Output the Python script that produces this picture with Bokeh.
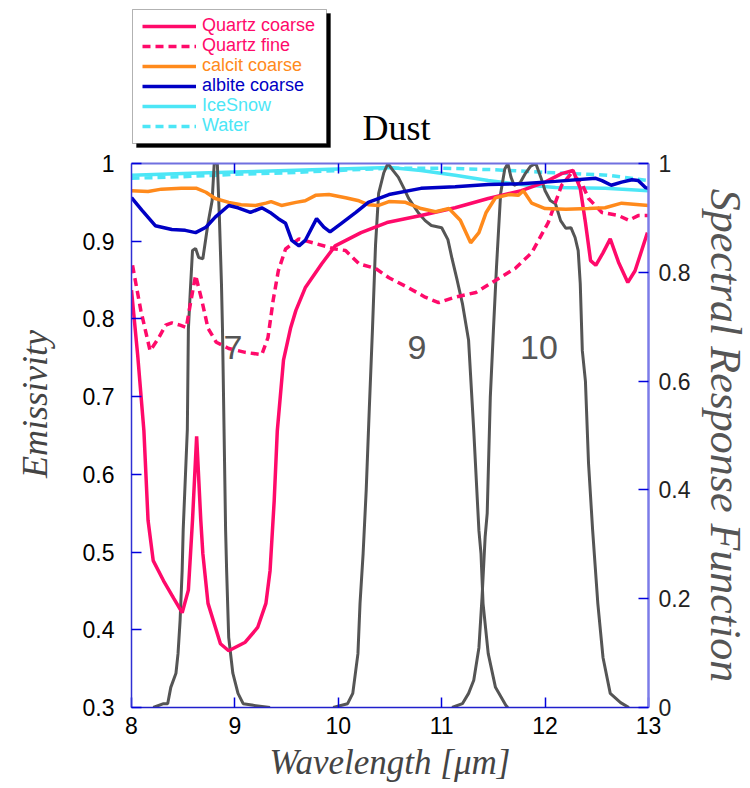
from bokeh.plotting import figure
from bokeh.layouts import column
from bokeh.models import (LinearAxis, Range1d, FixedTicker, Legend, LegendItem,
                          BoxAnnotation, Label, CustomLabelingPolicy)
from bokeh.core.properties import value
from bokeh.embed import file_html
from bokeh.resources import INLINE

# ---------------- data ----------------
quartz_coarse_wl = [8.00, 8.06, 8.12, 8.16, 8.21, 8.31, 8.41, 8.49, 8.55, 8.59, 8.63, 8.67, 8.69, 8.74,
                    8.86, 8.94, 9.10, 9.22, 9.30, 9.34, 9.38, 9.41, 9.47, 9.54, 9.59, 9.68, 9.84, 9.97,
                    10.22, 10.47, 10.80, 11.13, 11.45, 11.77, 12.00, 12.16, 12.27, 12.34, 12.39, 12.44,
                    12.49, 12.56, 12.63, 12.71, 12.80, 12.87, 12.99]
quartz_coarse = [0.837, 0.753, 0.656, 0.541, 0.489, 0.463, 0.440, 0.422, 0.451, 0.541, 0.649, 0.541,
                 0.498, 0.434, 0.382, 0.373, 0.384, 0.403, 0.434, 0.476, 0.566, 0.656, 0.747, 0.789,
                 0.811, 0.840, 0.871, 0.894, 0.911, 0.924, 0.933, 0.943, 0.955, 0.965, 0.976, 0.987,
                 0.991, 0.968, 0.924, 0.875, 0.869, 0.885, 0.903, 0.873, 0.847, 0.862, 0.911]

quartz_fine_wl = [8.01, 8.09, 8.18, 8.26, 8.33, 8.39, 8.47, 8.53, 8.57, 8.62, 8.68, 8.74, 8.82, 8.94,
                  9.10, 9.26, 9.32, 9.37, 9.42, 9.49, 9.62, 9.78, 9.97, 10.07, 10.20, 10.36, 10.49,
                  10.68, 10.84, 10.97, 11.13, 11.33, 11.55, 11.71, 11.87, 12.03, 12.16, 12.25, 12.35,
                  12.42, 12.55, 12.71, 12.81, 12.90, 13.00]
quartz_fine = [0.869, 0.811, 0.759, 0.775, 0.792, 0.795, 0.792, 0.789, 0.820, 0.856, 0.824, 0.788,
               0.770, 0.762, 0.757, 0.754, 0.776, 0.824, 0.862, 0.890, 0.903, 0.897, 0.890, 0.888,
               0.871, 0.865, 0.853, 0.840, 0.828, 0.821, 0.828, 0.834, 0.852, 0.865, 0.885, 0.924,
               0.972, 0.987, 0.976, 0.955, 0.937, 0.933, 0.927, 0.933, 0.933]

calcit_wl = [8.00, 8.16, 8.29, 8.48, 8.63, 8.72, 8.81, 8.94, 9.06, 9.20, 9.30, 9.35, 9.45, 9.59, 9.68,
             9.78, 9.91, 10.07, 10.20, 10.29, 10.39, 10.49, 10.65, 10.80, 10.94, 11.07, 11.18, 11.28,
             11.36, 11.43, 11.52, 11.65, 11.74, 11.79, 11.87, 12.00, 12.20, 12.42, 12.58, 12.74, 13.00]
calcit_coarse = [0.965, 0.964, 0.967, 0.968, 0.968, 0.963, 0.955, 0.950, 0.947, 0.946, 0.949, 0.951,
                 0.946, 0.950, 0.952, 0.959, 0.960, 0.956, 0.952, 0.947, 0.946, 0.951, 0.950, 0.942,
                 0.938, 0.942, 0.927, 0.898, 0.911, 0.937, 0.956, 0.960, 0.959, 0.965, 0.949, 0.942,
                 0.941, 0.942, 0.943, 0.949, 0.946]

albite_wl = [8.00, 8.10, 8.23, 8.39, 8.52, 8.62, 8.72, 8.81, 8.94, 9.03, 9.15, 9.26, 9.34, 9.42, 9.49,
             9.55, 9.62, 9.68, 9.79, 9.86, 9.92, 10.03, 10.17, 10.29, 10.49, 10.80, 11.13, 11.45,
             11.77, 12.10, 12.49, 12.55, 12.64, 12.74, 12.84, 12.90, 12.97, 13.00]
albite_coarse = [0.956, 0.940, 0.920, 0.915, 0.914, 0.911, 0.918, 0.931, 0.946, 0.943, 0.937, 0.943,
                 0.937, 0.929, 0.923, 0.901, 0.894, 0.901, 0.929, 0.918, 0.912, 0.923, 0.937, 0.950,
                 0.960, 0.968, 0.970, 0.973, 0.974, 0.977, 0.981, 0.978, 0.972, 0.976, 0.979, 0.978,
                 0.969, 0.968]

icesnow_wl = [8.0, 8.5, 9.0, 9.5, 10.0, 10.5, 10.8, 11.13, 11.45, 11.77, 12.1, 12.58, 13.0]
icesnow = [0.985, 0.987, 0.989, 0.991, 0.993, 0.995, 0.991, 0.985, 0.978, 0.973, 0.969, 0.968, 0.965]

water_wl = [8.0, 8.5, 9.0, 9.5, 10.0, 10.5, 11.0, 11.5, 12.1, 12.6, 13.0]
water = [0.981, 0.983, 0.986, 0.988, 0.991, 0.994, 0.994, 0.992, 0.988, 0.985, 0.978]

band7_wl = [8.21, 8.31, 8.35, 8.38, 8.43, 8.45, 8.47, 8.49, 8.50, 8.54, 8.55, 8.57, 8.59, 8.62, 8.65,
            8.69, 8.72, 8.74, 8.78, 8.80, 8.83, 8.85, 8.87, 8.88, 8.91, 8.92, 8.94, 8.98, 9.03, 9.08,
            9.18, 9.34]
band7_srf = [0.0, 0.007, 0.007, 0.037, 0.063, 0.099, 0.160, 0.252, 0.327, 0.511, 0.695, 0.770, 0.840,
             0.844, 0.827, 0.825, 0.864, 0.890, 0.932, 1.000, 1.000, 0.901, 0.779, 0.695, 0.327,
             0.252, 0.129, 0.063, 0.026, 0.007, 0.004, 0.0]

band9_wl = [9.95, 10.09, 10.14, 10.19, 10.21, 10.24, 10.27, 10.30, 10.33, 10.36, 10.39, 10.44, 10.48,
            10.53, 10.58, 10.63, 10.68, 10.78, 10.84, 10.90, 11.00, 11.06, 11.10, 11.15, 11.20, 11.26,
            11.31, 11.36, 11.38, 11.40, 11.45, 11.52, 11.62, 11.64]
band9_srf = [0.0, 0.007, 0.026, 0.099, 0.191, 0.283, 0.400, 0.550, 0.693, 0.850, 0.945, 0.983, 1.000,
             0.987, 0.975, 0.956, 0.936, 0.908, 0.895, 0.886, 0.882, 0.860, 0.825, 0.785, 0.743,
             0.675, 0.509, 0.325, 0.283, 0.191, 0.099, 0.037, 0.004, 0.0]

band10_wl = [11.10, 11.20, 11.26, 11.31, 11.36, 11.39, 11.42, 11.44, 11.47, 11.50, 11.53, 11.57, 11.61,
             11.64, 11.67, 11.70, 11.76, 11.81, 11.86, 11.91, 11.96, 12.00, 12.05, 12.10, 12.15,
             12.20, 12.25, 12.29, 12.32, 12.34, 12.36, 12.39, 12.42, 12.46, 12.51, 12.56, 12.63,
             12.73, 12.81]
band10_srf = [0.0, 0.007, 0.026, 0.050, 0.110, 0.202, 0.313, 0.357, 0.570, 0.693, 0.810, 0.945, 0.990,
              1.000, 0.975, 0.960, 0.965, 0.982, 0.995, 1.000, 0.974, 0.950, 0.932, 0.926, 0.895,
              0.881, 0.882, 0.864, 0.840, 0.779, 0.656, 0.600, 0.449, 0.325, 0.191, 0.092, 0.026,
              0.009, 0.0]

band_names = ["7", "9", "10"]
band_label_wl = [8.98, 10.76, 11.94]
band_label_em = [0.763, 0.763, 0.763]

x_ticks = [8, 9, 10, 11, 12, 13]
em_ticks = [0.3, 0.4, 0.5, 0.6, 0.7, 0.8, 0.9, 1.0]
srf_ticks = [0, 0.2, 0.4, 0.6, 0.8, 1.0]

legend_labels = ["Quartz coarse", "Quartz fine", "calcit coarse", "albite coarse", "IceSnow", "Water"]

# ---------------- style ----------------
SANS = "Liberation Sans"
SERIF = "Liberation Serif"
AX_BLUE = "#2020cc"
PINK = "#ff0a6a"
ORANGE = "#ff8a1c"
BLUE = "#0000c4"
CYAN = "#4ce6f6"
GRAY = "#555555"
LW = 3.5

TOP_H = 148      # header canvas height
XOFF = 132       # header frame left edge (aligned with main frame)

# ---------------- main plot ----------------
p = figure(frame_width=517, frame_height=544,
           min_border_left=131, min_border_right=102, min_border_top=15, min_border_bottom=80,
           x_range=Range1d(8, 13), y_range=Range1d(0.3, 1.0),
           x_axis_type=None, y_axis_type=None,
           output_backend="svg", toolbar_location=None, tools="")
p.extra_y_ranges = {"srf": Range1d(0, 1)}
p.outline_line_color = None
p.background_fill_color = "white"
p.border_fill_color = "white"


def style_axis(ax, ticks, overrides, standoff, line_color, line_width):
    ax.ticker = FixedTicker(ticks=ticks)
    ax.major_label_overrides = overrides
    ax.major_tick_in = 10
    ax.major_tick_out = 0
    ax.minor_tick_in = 0
    ax.minor_tick_out = 0
    ax.major_tick_line_color = "#0000dd"
    ax.major_tick_line_width = 1.5
    ax.axis_line_color = line_color
    ax.axis_line_width = line_width
    ax.major_label_text_font = SANS
    ax.major_label_text_font_size = "23px"
    ax.major_label_text_color = "black"
    ax.major_label_standoff = standoff
    ax.axis_label_text_font = SERIF
    ax.axis_label_text_font_style = "italic"
    ax.axis_label_text_font_size = "35px"


bottom = LinearAxis(axis_label="Wavelength [μm]")
style_axis(bottom, x_ticks, {}, 9, AX_BLUE, 1.5)
bottom.axis_label_standoff = 6
p.add_layout(bottom, "below")

left = LinearAxis(axis_label="\u00a0" * 7 + "Emissivity")
style_axis(left, em_ticks, {1.0: "1"}, 17, "#3030d4", 1.5)
left.axis_label_standoff = 25
left.axis_label_text_font_size = "36px"
p.add_layout(left, "left")

right = LinearAxis(y_range_name="srf", axis_label="Spectral Response Function")
style_axis(right, srf_ticks, {0: "0", 1.0: "1"}, 10, "#7c7ce8", 2.5)
right.major_label_text_color = "#222222"
right.axis_label_text_color = GRAY
right.axis_label_standoff = 8
right.axis_label_text_font_size = "44px"
p.add_layout(right, "right")

top = LinearAxis()
style_axis(top, x_ticks[1:-1], {}, 0, "#7070e0", 2)
top.major_label_text_font_size = "1px"
top.major_label_policy = CustomLabelingPolicy(
    code="for (const i of indices) { indices.unset(i) } return indices")
p.add_layout(top, "above")

r_ice = p.line(icesnow_wl, icesnow, line_color=CYAN, line_width=LW)
r_water = p.line(water_wl, water, line_color=CYAN, line_width=LW, line_dash="8 5")
for wl, srf in [(band7_wl, band7_srf), (band9_wl, band9_srf), (band10_wl, band10_srf)]:
    p.line(wl, srf, y_range_name="srf", line_color=GRAY, line_width=3)
p.line(quartz_coarse_wl, quartz_coarse, line_color=PINK, line_width=LW)
p.line(quartz_fine_wl, quartz_fine, line_color=PINK, line_width=LW, line_dash="8 5")
p.line(calcit_wl, calcit_coarse, line_color=ORANGE, line_width=LW)
p.line(albite_wl, albite_coarse, line_color=BLUE, line_width=LW)

p.text(band_label_wl, band_label_em, text=band_names, text_font=value(SANS),
       text_font_size="34px", text_color=GRAY, text_align="center", text_baseline="middle")

# ---------------- header (legend + title) ----------------
h = figure(width=750, height=TOP_H, min_border=0, x_range=Range1d(0, 1), y_range=Range1d(0, 1),
           x_axis_type=None, y_axis_type=None, output_backend="svg",
           toolbar_location=None, tools="")
h.outline_line_color = None
h.background_fill_color = "white"
h.border_fill_color = "white"
h.xgrid.visible = False
h.ygrid.visible = False

box_top, box_bottom, box_left, box_right = 9, 143, 133, 327
box_kw = dict(left_units="screen", right_units="screen", top_units="screen", bottom_units="screen")
h.add_layout(BoxAnnotation(left=box_left + 4 - XOFF, right=box_right + 4 - XOFF,
                           top=TOP_H - box_top - 4, bottom=TOP_H - box_bottom - 4,
                           fill_color="black", fill_alpha=1, line_color="black", line_width=1,
                           **box_kw))
h.add_layout(BoxAnnotation(left=box_left - XOFF, right=box_right - XOFF,
                           top=TOP_H - box_top, bottom=TOP_H - box_bottom,
                           fill_color="white", fill_alpha=1, line_color="black", line_width=1,
                           **box_kw))

legend_styles = [(PINK, None), (PINK, "8 5"), (ORANGE, None), (BLUE, None), (CYAN, None), (CYAN, "8 5")]
row_centers = [26, 46, 66, 86, 106, 126]
nan = float("nan")
for lab, (col, dash), cy in zip(legend_labels, legend_styles, row_centers):
    kw = {"line_dash": dash} if dash else {}
    rend = h.line([nan], [nan], line_color=col, line_width=LW, **kw)
    leg = Legend(items=[LegendItem(label=lab, renderers=[rend])],
                 location=(143 - XOFF, TOP_H - (cy + 10)),
                 padding=0, margin=0, spacing=0, glyph_width=54, glyph_height=20,
                 label_height=20, label_standoff=6, label_text_font=SANS,
                 label_text_font_size="18px", label_text_color=col,
                 border_line_alpha=0, background_fill_alpha=0)
    h.add_layout(leg, "center")

h.add_layout(Label(x=397 - XOFF, y=TOP_H - 127, x_units="screen", y_units="screen", text="Dust",
                   text_font=SERIF, text_font_size="36px", text_color="black",
                   text_align="center", text_baseline="alphabetic"))

layout = column(h, p, spacing=0)
open("out.html", "w").write(file_html(layout, INLINE))
